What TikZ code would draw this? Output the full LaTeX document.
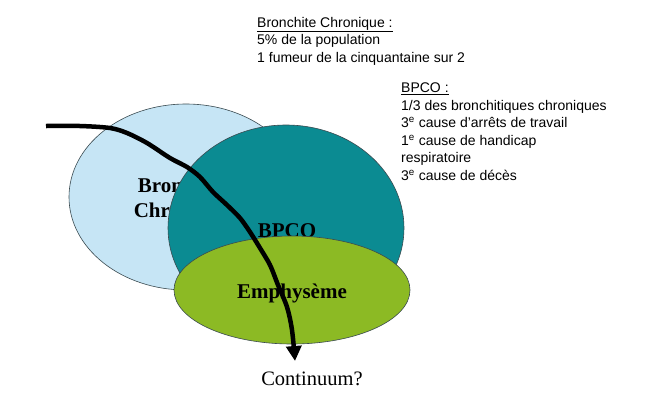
\documentclass[tikz,border=0pt]{standalone}
\usepackage{fontspec}
\setmainfont{Liberation Serif}
\newfontfamily\arialfont{Liberation Sans}
\usetikzlibrary{arrows.meta,shapes.geometric}
\definecolor{PaleBlue}{HTML}{C6E5F5}
\definecolor{DeepTeal}{HTML}{0B8B92}
\definecolor{LeafGreen}{HTML}{8CBA24}
\definecolor{RimGray}{HTML}{3A4A50}

\tikzset{
  blob/.style={ellipse,draw=RimGray,line width=0.6pt,inner sep=0pt},
  bigword/.style={font=\fontsize{21}{25}\selectfont\bfseries,anchor=base,inner sep=0pt},
  note/.style={font=\arialfont\fontsize{14}{17}\selectfont,anchor=base west,inner sep=0pt},
  trail/.style={line width=4.5pt,line join=round,-{Triangle[length=15pt,width=15pt]}}
}

\begin{document}
\begin{tikzpicture}[x=1pt,y=-1pt]
  \useasboundingbox (0,0) rectangle (655,400);

  % the three sets
  \node[blob,fill=PaleBlue,minimum width=234pt,minimum height=186pt] (bronch) at (186,197) {};
  \node[bigword] (bronchA) at (182,192) {Bronchite};
  \node[bigword] (bronchB) at (182,217) {Chronique};
  \node[blob,fill=DeepTeal,minimum width=236pt,minimum height=206pt] (bpco) at (286,228) {};
  \node[bigword] (bpcotxt) at (287,237) {BPCO};
  \node[blob,fill=LeafGreen,minimum width=236pt,minimum height=108pt] (emph) at (292,290) {};
  \node[bigword] (emphtxt) at (292,298) {Emphysème};

  % the continuum arrow
  \coordinate (start) at (46,126);
  \coordinate (tip) at (295,361);
  \draw[trail] plot[smooth,tension=0.5] coordinates {(start) (80,126) (110,128) (127,133) (147,143)
    (170,158) (187,167) (200,177) (213,192) (227,205) (240,218) (250,232) (260,248)
    (270,265) (278,285) (287,307) (292,330) (tip)};
  \node[font=\fontsize{20.5}{24}\selectfont,anchor=base,inner sep=0pt] (cont) at (312,385) {Continuum?};

  % notes on the right
  \foreach \t [count=\i from 0] in {\underline{Bronchite Chronique :}, 5\% de la population, 1 fumeur de la cinquantaine sur 2}
    \node[note] (chron\i) at (257,27+17.5*\i) {\t};
  \foreach \t [count=\i from 0] in {\underline{BPCO :}, 1/3 des bronchitiques chroniques, 3\textsuperscript{e} cause d’arrêts de travail, 1\textsuperscript{e} cause de handicap, respiratoire, 3\textsuperscript{e} cause de décès}
    \node[note] (bp\i) at (401,92.5+17.6*\i) {\t};
\end{tikzpicture}
\end{document}
